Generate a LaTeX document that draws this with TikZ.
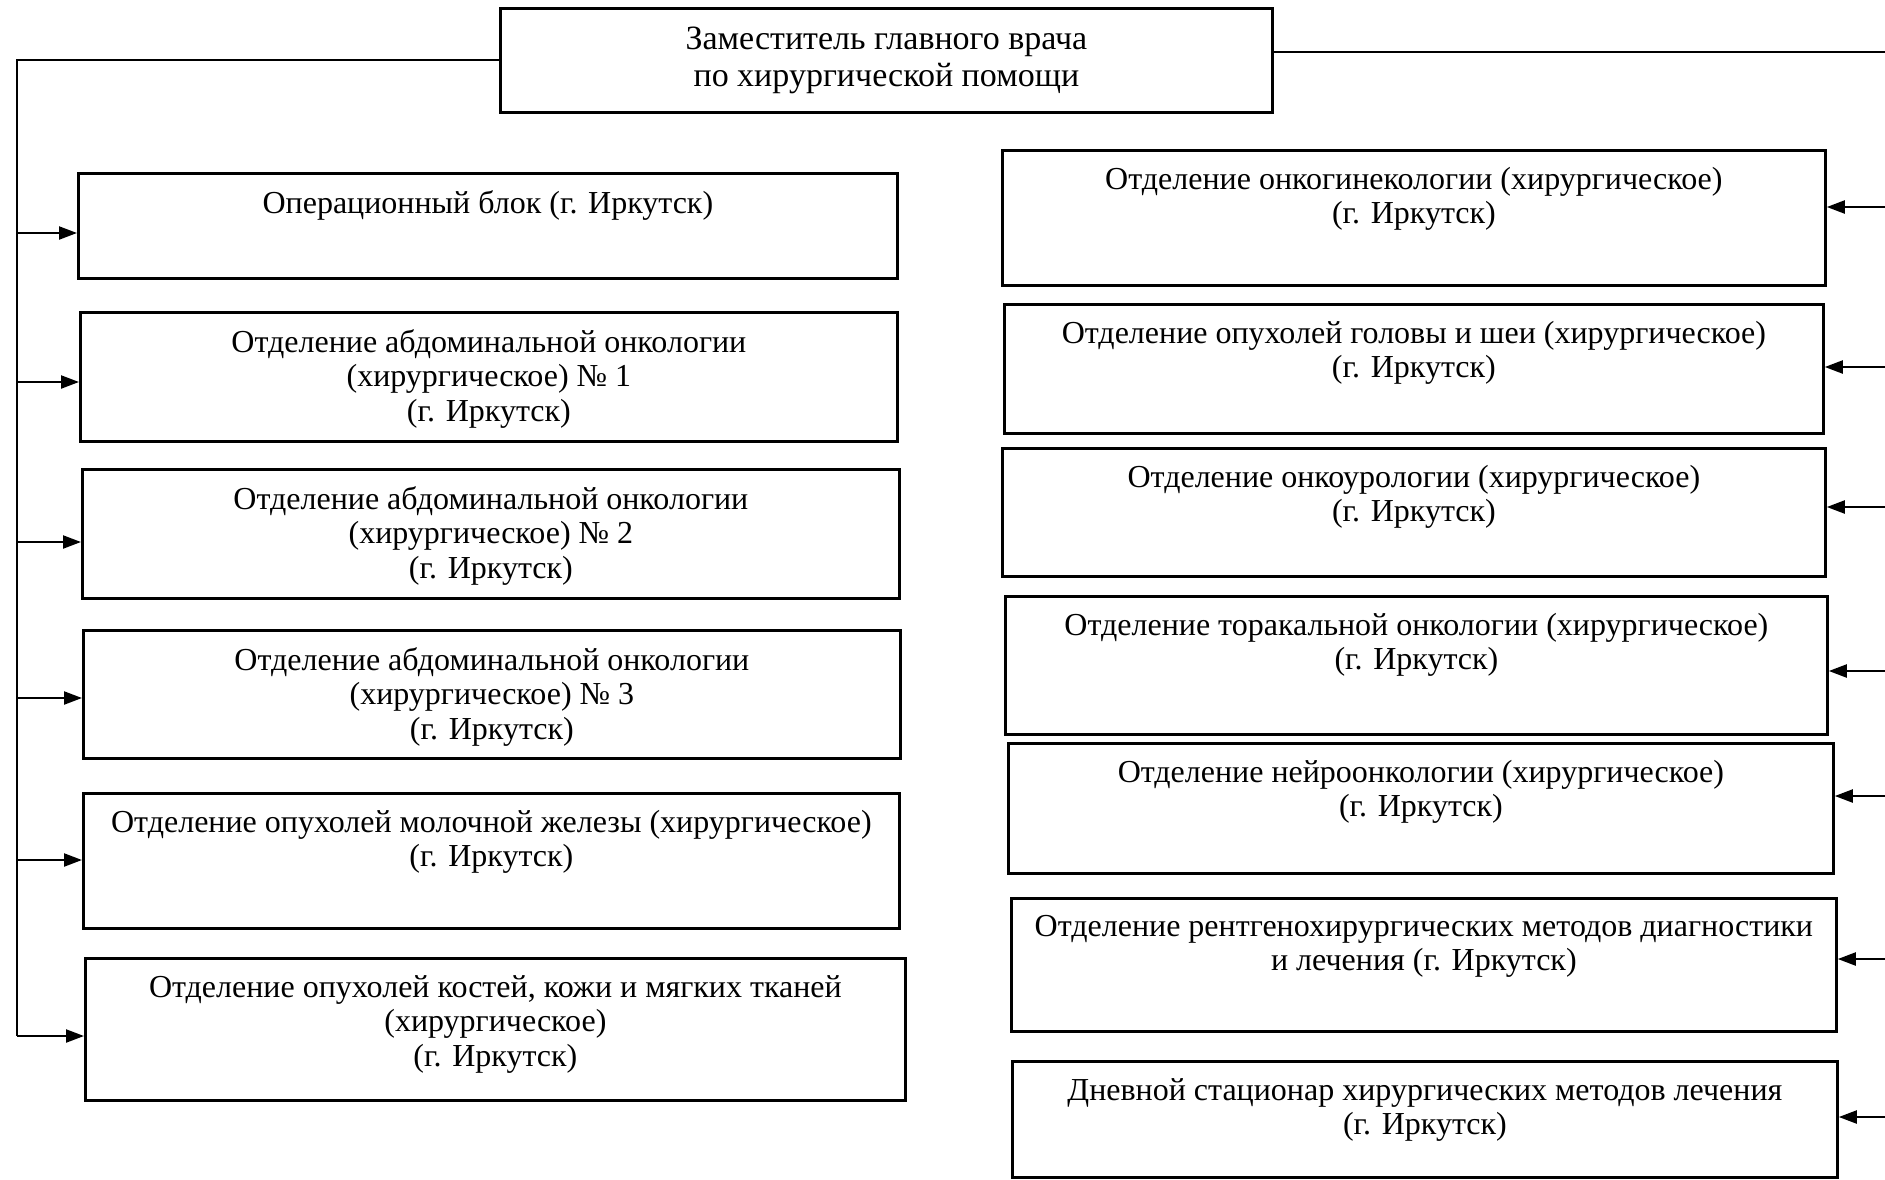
\documentclass[tikz,border=0pt]{standalone}
\usepackage{fontspec}
\setmainfont{Liberation Serif}
\usetikzlibrary{arrows.meta}
\begin{document}
\begin{tikzpicture}[x=1pt,y=-1pt,
  box/.style={draw, line width=2.8pt, inner sep=0pt, anchor=north west},
  lbl/.style={anchor=north, align=center, inner sep=0pt, yshift=-18pt, font=\fontsize{32}{34.5}\selectfont},
  arr/.style={line width=2.2pt, -{Triangle[length=18pt,width=13pt]}},
  bus/.style={line width=2.2pt}]
\fill[white] (0,0) rectangle (1885,1179);
\useasboundingbox (0,0) rectangle (1885,1179);

% head
\node[box, minimum width=772pt, minimum height=104pt, align=center,
      font=\fontsize{34}{36.5}\selectfont] (top) at (499,7)
  {Заместитель главного врача\\по хирургической помощи};

% left column
\node[box, minimum width=819pt, minimum height=105pt,
  label={[lbl]north:{Операционный блок (г. Иркутск)}}] (l1) at (77,172) {};
\node[box, minimum width=817pt, minimum height=129pt,
  label={[lbl]north:{Отделение абдоминальной онкологии\\(хирургическое) № 1\\(г. Иркутск)}}] (l2) at (79,311) {};
\node[box, minimum width=817pt, minimum height=129pt,
  label={[lbl]north:{Отделение абдоминальной онкологии\\(хирургическое) № 2\\(г. Иркутск)}}] (l3) at (81,468) {};
\node[box, minimum width=817pt, minimum height=128pt,
  label={[lbl]north:{Отделение абдоминальной онкологии\\(хирургическое) № 3\\(г. Иркутск)}}] (l4) at (82,629) {};
\node[box, minimum width=816pt, minimum height=135pt,
  label={[lbl]north:{Отделение опухолей молочной железы (хирургическое)\\(г. Иркутск)}}] (l5) at (82,792) {};
\node[box, minimum width=820pt, minimum height=142pt,
  label={[lbl]north:{Отделение опухолей костей, кожи и мягких тканей\\(хирургическое)\\(г. Иркутск)}}] (l6) at (84,957) {};

% right column
\node[box, minimum width=823pt, minimum height=135pt,
  label={[lbl]north:{Отделение онкогинекологии (хирургическое)\\(г. Иркутск)}}] (r1) at (1001,149) {};
\node[box, minimum width=819pt, minimum height=129pt,
  label={[lbl]north:{Отделение опухолей головы и шеи (хирургическое)\\(г. Иркутск)}}] (r2) at (1003,303) {};
\node[box, minimum width=823pt, minimum height=128pt,
  label={[lbl]north:{Отделение онкоурологии (хирургическое)\\(г. Иркутск)}}] (r3) at (1001,447) {};
\node[box, minimum width=822pt, minimum height=138pt,
  label={[lbl]north:{Отделение торакальной онкологии (хирургическое)\\(г. Иркутск)}}] (r4) at (1004,595) {};
\node[box, minimum width=825pt, minimum height=130pt,
  label={[lbl]north:{Отделение нейроонкологии (хирургическое)\\(г. Иркутск)}}] (r5) at (1007,742) {};
\node[box, minimum width=825pt, minimum height=133pt,
  label={[lbl]north:{Отделение рентгенохирургических методов диагностики\\и лечения (г. Иркутск)}}] (r6) at (1010,897) {};
\node[box, minimum width=825pt, minimum height=116pt,
  label={[lbl]north:{Дневной стационар хирургических методов лечения\\(г. Иркутск)}}] (r7) at (1011,1060) {};

% left bus
\coordinate (lt) at (17,60);
\coordinate (lb) at (17,1036);
\draw[bus] (top.west |- lt) -- (lt) -- (lb);
\foreach \n/\y in {l1/233, l2/382, l3/542, l4/698, l5/860} {
  \coordinate (p\n) at (17,\y);
  \draw[arr] (p\n) -- (p\n -| \n.west);
}
\draw[arr] (lb) -- (lb -| l6.west);

% right bus (beyond the right edge)
\coordinate (rt) at (1885,52);
\draw[bus] (top.east |- rt) -- (rt);
\foreach \n/\y in {r1/207, r2/367, r3/507, r4/671, r5/796, r6/959, r7/1117} {
  \coordinate (p\n) at (1885,\y);
  \draw[arr] (p\n) -- (p\n -| \n.east);
}
\end{tikzpicture}
\end{document}
